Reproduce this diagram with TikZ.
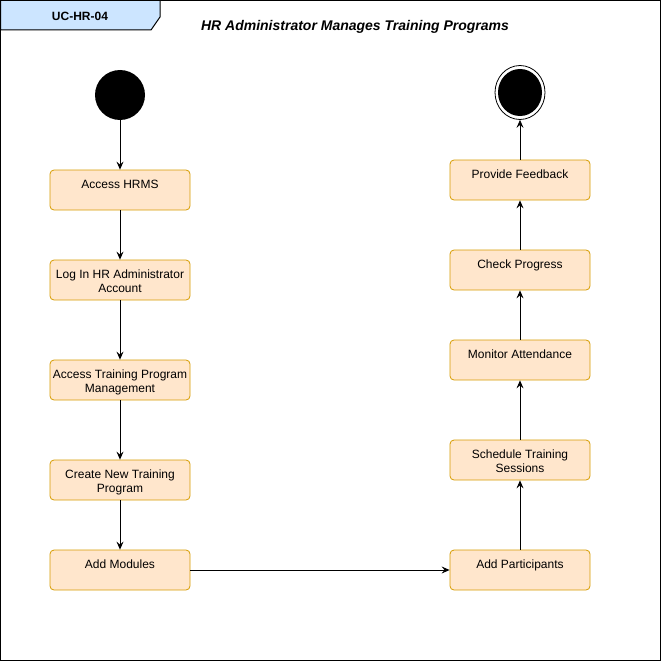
\documentclass[tikz,border=0pt]{standalone}
\usepackage{fontspec}
\setmainfont{Liberation Sans}
\usetikzlibrary{arrows.meta,shapes.geometric}
\definecolor{actfill}{HTML}{FFE6CC}
\definecolor{actline}{HTML}{D79B00}
\definecolor{tabfill}{HTML}{CCE5FF}
\begin{document}
\begin{tikzpicture}[x=1pt,y=-1pt,
  act/.style={draw=actline,fill=actfill,rounded corners=4pt,minimum width=140pt,minimum height=40pt,inner sep=0pt,line width=0.8pt},
  lbl/.style={font=\fontsize{12}{14}\selectfont,align=center,anchor=north,inner sep=0pt},
  flow/.style={draw=black,line width=0.8pt,-{Stealth[length=8pt,width=7pt,inset=3pt]}}]
\useasboundingbox (0,0) rectangle (661,661);
\draw[line width=1pt] (0.5,0.5) rectangle (660.5,660.5);
\draw[line width=1pt,fill=tabfill] (0.5,0.5) -- (160,0.5) -- (160,17) -- (151,30) -- (0.5,30) -- cycle;
\node[font=\bfseries\fontsize{12}{14}\selectfont] (tab) at (80,16) {UC-HR-04};
\node[font=\bfseries\itshape\fontsize{14}{16}\selectfont] (title) at (355,27) {HR Administrator Manages Training Programs};
% start / end
\node[circle,fill=black,minimum size=50pt,inner sep=0pt] (start) at (120,95) {};
\node[ellipse,draw=black,line width=0.8pt,minimum width=50pt,minimum height=54pt,inner sep=0pt] (end) at (520,92.5) {};
\node[ellipse,fill=black,minimum width=44pt,minimum height=47pt,inner sep=0pt] (endin) at (520,92.5) {};
% left column
\node[act] (a1) at (120,190) {};
\node[act] (a2) at (120,280) {};
\node[act] (a3) at (120,380) {};
\node[act] (a4) at (120,480) {};
\node[act] (a5) at (120,570) {};
% right column
\node[act] (b1) at (520,570) {};
\node[act] (b2) at (520,460) {};
\node[act] (b3) at (520,360) {};
\node[act] (b4) at (520,270) {};
\node[act] (b5) at (520,180) {};
% labels
\node[lbl] (t1) at ([yshift=-10.3pt]a1.north) {Access HRMS};
\node[lbl] (t2) at ([yshift=-10.3pt]a2.north) {Log In HR Administrator\\Account};
\node[lbl] (t3) at ([yshift=-10.3pt]a3.north) {Access Training Program\\Management};
\node[lbl] (t4) at ([yshift=-10.3pt]a4.north) {Create New Training\\Program};
\node[lbl] (t5) at ([yshift=-10.3pt]a5.north) {Add Modules};
\node[lbl] (u1) at ([yshift=-10.3pt]b1.north) {Add Participants};
\node[lbl] (u2) at ([yshift=-10.3pt]b2.north) {Schedule Training\\Sessions};
\node[lbl] (u3) at ([yshift=-10.3pt]b3.north) {Monitor Attendance};
\node[lbl] (u4) at ([yshift=-10.3pt]b4.north) {Check Progress};
\node[lbl] (u5) at ([yshift=-10.3pt]b5.north) {Provide Feedback};
% connectors
\draw[flow] (start) -- (a1);
\draw[flow] (a1) -- (a2);
\draw[flow] (a2) -- (a3);
\draw[flow] (a3) -- (a4);
\draw[flow] (a4) -- (a5);
\draw[flow] (a5) -- (b1);
\draw[flow] (b1) -- (b2);
\draw[flow] (b2) -- (b3);
\draw[flow] (b3) -- (b4);
\draw[flow] (b4) -- (b5);
\draw[flow] (b5) -- (end);
\end{tikzpicture}
\end{document}
